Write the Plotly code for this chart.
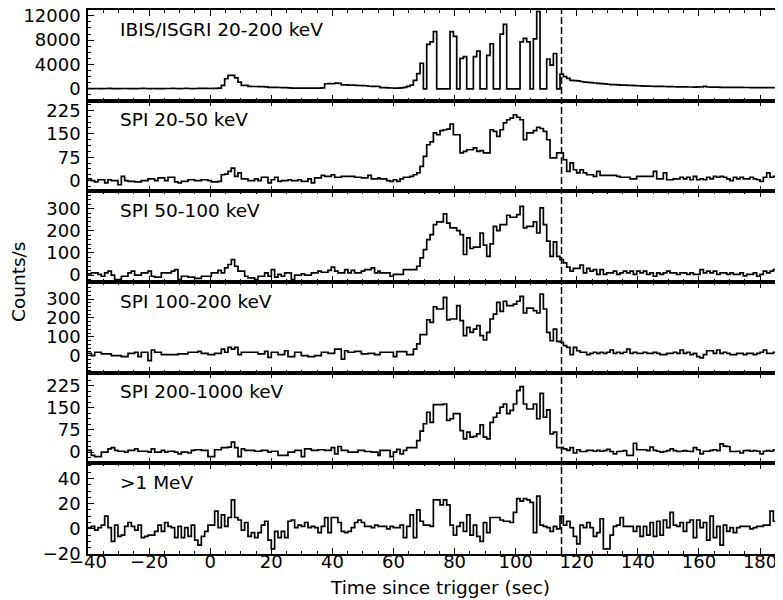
import plotly.graph_objects as go
from plotly.subplots import make_subplots

# time grid of the light curves (s)
BIN = 1.091
T_LEFT = -40.0
T_RIGHT = 55.6

panel_labels = ["IBIS/ISGRI 20-200 keV", "SPI 20-50 keV", "SPI 50-100 keV",
                "SPI 100-200 keV", "SPI 200-1000 keV", ">1 MeV"]

isgri_left = [30, 40, 50, 40, 30, 50, 60, 40, 30, 40,
              50, 50, 40, 30, 40, 50, 60, 50, 40, 50,
              40, 30, 40, 50, 50, 60, 50, 40, 50, 60,
              50, 40, 50, 60, 70, 60, 50, 60, 80, 120,
              550, 1650, 2200, 2200, 1800, 1100, 550, 550, 400, 380,
              380, 360, 350, 330, 250, 230, 220, 210, 200, 200,
              150, 120, 110, 110, 100, 100, 110, 100, 110, 120,
              150, 830, 850, 830, 940, 900, 660, 650, 620, 600,
              550, 540, 520, 500, 420, 400, 390, 380]
isgri_right = [200, 180, 150, 130, 120, 110, 150, 250, 400, 600,
               1400, 2500, 4200, 0, 7300, 7700, 9400, 0, 0, 0,
               0, 9400, 8600, 0, 5000, 5300, 0, 0, 5300, 6200,
               0, 0, 5500, 7400, 0, 0, 9000, 10600, 0, 0,
               0, 0, 7700, 8300, 7700, 0, 8200, 12700, 0, 0,
               4900, 3900, 5800, 0, 2400, 2000, 1700, 1400, 1350, 1300,
               1200, 1100, 1050, 1000, 950, 900, 850, 800, 750, 700,
               680, 650, 620, 600, 570, 550, 520, 500, 470, 450,
               430, 420, 410, 400, 390, 380, 360, 350, 340, 330,
               320, 310, 300, 300, 290, 320, 300, 400, 300, 280,
               270, 260, 250, 250, 240, 230, 230, 220, 220, 210,
               210, 200, 200, 200, 190, 190, 180, 180, 170, 170, 170]

spi_20_50_left = [6, 0, -4, 3, 3, -7, 3, 0, 0, -13,
                  14, 0, -2, -2, -4, -4, 0, 0, 6, 6,
                  0, 9, 9, 0, 11, 11, -4, -7, -2, -2,
                  3, 3, 0, 0, 3, 3, 0, -4, -4, -2,
                  19, 21, 30, 40, 14, 25, 6, 6, 0, 0,
                  6, 0, 11, 11, -7, 3, 11, -2, 0, 0,
                  3, 0, 0, 3, -2, -2, 6, -7, 9, 9,
                  17, 14, 14, 19, 11, 11, 14, 14, 14, 14,
                  11, 11, 9, 9, 17, 6, 6, 9]
spi_20_50_right = [6, 6, 0, -2, 3, -2, 6, 11, 11, 14,
                   19, 25, 46, 78, 115, 124, 153, 147, 160, 163,
                   165, 181, 147, 147, 89, 94, 99, 99, 105, 94,
                   96, 89, 89, 163, 158, 142, 163, 185, 195, 200,
                   211, 203, 195, 131, 153, 153, 160, 171, 167, 158,
                   131, 73, 73, 89, 89, 67, 30, 57, 35, 25,
                   35, 25, 19, 19, 14, 30, 17, 17, 17, 17,
                   17, 14, 11, 11, 11, 6, 6, 14, 14, 14,
                   14, 14, 30, 6, 6, 25, 3, 3, 6, 6,
                   11, 6, 11, 3, 14, 3, 6, 3, 11, 6,
                   14, 11, 14, 11, 6, 0, 11, 6, 11, 6,
                   6, 11, 6, 3, -2, 11, 25, 11, 14, 11, 14]

spi_50_100_left = [6, 10, 10, 3, -5, 10, 18, 0, -20, -20,
                   -5, -5, 10, 18, 0, 0, 10, 10, 18, -5,
                   -9, -9, 10, 10, 10, 18, 25, -20, -5, -5,
                   -9, -9, -15, -15, -5, -5, -5, 10, 10, 21,
                   10, 33, 48, 70, 40, 18, 18, -5, -12, -12,
                   -20, -5, -5, 10, -5, 25, -9, 3, -5, 10,
                   10, -20, 0, 0, 6, 0, 0, 10, 10, 18,
                   13, 13, 21, 36, 18, 10, 10, 25, 10, 21,
                   10, 10, 18, 25, 25, 33, 10, 18]
spi_50_100_right = [10, 10, 10, -5, 3, 3, 3, 25, 25, 25,
                    25, 40, 78, 115, 160, 183, 228, 240, 240, 276,
                    235, 213, 213, 201, 183, 93, 168, 120, 126, 126,
                    190, 135, 85, 141, 220, 201, 228, 228, 270, 261,
                    261, 273, 310, 213, 220, 220, 240, 190, 303, 228,
                    153, 85, 150, 85, 70, 55, 36, 18, 30, 30,
                    45, 10, 30, 18, 25, 3, 25, 3, 10, 10,
                    18, 3, 10, 18, 10, 18, 3, 18, 10, 18,
                    3, 10, -5, 10, 3, 10, 18, 10, 10, 3,
                    10, 10, 3, 10, 3, 3, 25, 10, 18, 10,
                    18, 3, 10, 10, 3, 10, 3, 3, 10, -3,
                    3, 3, 10, -5, 3, 18, 10, 18, 25, 25, 18]

spi_100_200_left = [12, 0, 18, 18, 9, 9, 9, 0, 0, 0,
                    -5, -5, 12, 12, 18, -5, 18, 18, -26, 30,
                    18, 18, 5, 5, 5, 5, 5, 9, 9, 9,
                    18, 18, 18, 23, 12, 12, 5, 5, 12, 12,
                    35, 18, 44, 35, 44, 5, 18, 18, 18, 18,
                    18, 9, 9, 23, -9, 18, 18, 5, 5, 26,
                    -5, -5, 18, 18, 0, 0, -5, -5, 0, 0,
                    18, 18, 12, 12, 35, 35, -18, 26, 18, 18,
                    23, 23, 9, 9, 12, 12, 5, 5]
spi_100_200_right = [18, 18, 18, 18, -5, 21, 21, 21, 5, 5,
                     35, 62, 111, 111, 189, 176, 259, 247, 247, 309,
                     189, 194, 194, 265, 185, 106, 150, 123, 141, 159,
                     106, 83, 123, 194, 220, 282, 235, 288, 265, 265,
                     273, 288, 314, 226, 252, 252, 238, 226, 326, 247,
                     123, 79, 141, 76, 71, 53, 44, 5, 44, 26,
                     18, 18, 5, 12, 18, 12, 18, 12, 18, 30,
                     12, 18, 12, 18, 35, 12, 18, 12, 12, 18,
                     12, 12, 18, 12, 5, 5, 12, 12, 18, 12,
                     30, 12, 18, 5, 12, -5, -12, 5, 26, 26,
                     12, 30, 12, 18, 12, 5, 5, 12, 12, 5,
                     12, 12, 5, 12, 18, 30, 12, 12, 18, 23, 23]

spi_200_1000_left = [6, -11, -15, -15, 0, 0, 11, 15, 6, 3,
                     3, 0, 6, 6, 11, 3, 3, 3, 0, 11,
                     0, 0, 6, 0, 3, 3, 0, -6, 0, 0,
                     -3, 6, 8, 8, 6, 6, -15, -15, 8, 8,
                     15, 15, 17, 34, 15, -15, 11, 6, 6, 6,
                     3, 3, 6, 6, 0, 3, 3, -11, -11, -11,
                     0, 0, 6, 6, -15, 11, 11, 6, 6, 8,
                     8, 6, 6, 15, -6, 19, 6, 6, 0, 0,
                     0, 6, 6, 2, 2, 0, 0, -11]
spi_200_1000_right = [6, 6, 6, -15, 0, 9, -6, 6, 15, 15,
                      15, 39, 71, 96, 135, 101, 161, 161, 161, 163,
                      107, 113, 130, 130, 73, 45, 68, 51, 53, 62,
                      92, 51, 45, 101, 118, 132, 152, 163, 130, 141,
                      163, 208, 222, 163, 146, 146, 163, 113, 199, 118,
                      143, 62, 68, 15, 15, 11, 6, 15, -3, 8,
                      2, 2, 6, 6, 3, 6, 3, 5, 9, 2,
                      -6, 2, 3, 5, -11, -11, 30, 8, 8, 8,
                      5, 17, 6, 3, 0, 2, 5, 11, 5, 2,
                      3, 5, 3, 2, 15, 8, -6, 3, 3, 6,
                      8, 5, 28, 20, 19, 2, 2, 3, -3, 5,
                      6, 3, 5, 3, -6, 3, 5, 3, 8, 17, 8]

mev_left = [1, 2, -1, 1, 3, 10, 1, -10, 3, -6,
            -5, 2, 5, 2, -1, 3, -7, -6, -5, -5,
            -2, 3, -2, 5, 2, 1, -7, 2, -7, 1,
            -6, 3, -9, -13, -6, -2, 3, 3, 14, 1,
            11, 2, 9, 23, 9, 7, -1, 5, -6, -3,
            -7, -3, 3, 6, -9, -16, -2, -7, -2, -7,
            6, 7, 1, 3, 2, 5, 1, 2, 1, -3,
            2, 9, -3, 9, 9, 5, -2, -3, -2, 1,
            5, 7, 5, 2, 2, 1, 3, 2]
mev_right = [2, 2, 0, 2, 1, 1, 3, -7, 2, 11,
             -7, 15, 6, 3, 3, 2, 23, 23, 19, 23,
             19, 3, -5, 2, 5, -2, 11, -5, 3, -6,
             -10, 5, -3, 9, 9, 9, 7, 6, 6, 5,
             13, 24, 22, 24, 23, 21, -3, 26, 3, 2,
             1, -2, 2, 0, 10, 3, 6, 1, -6, -12,
             3, 1, 5, 1, -6, -3, 8, -16, -16, -5,
             2, 3, 9, 2, 2, 2, -2, 2, -6, 2,
             -5, 5, -6, 6, -5, 7, 1, 13, 3, 2,
             5, -2, 5, 7, -7, 7, 1, 5, -9, 10,
             -7, 2, -13, 3, -2, 1, -3, 1, 2, 2,
             2, 0, 1, 2, 2, 3, 3, 14, 6, -3, -3]

series = [(isgri_left, isgri_right), (spi_20_50_left, spi_20_50_right),
          (spi_50_100_left, spi_50_100_right), (spi_100_200_left, spi_100_200_right),
          (spi_200_1000_left, spi_200_1000_right), (mev_left, mev_right)]

y_ranges = [[-1950, 12950], [-34, 256], [-31, 378], [-90, 390], [-38, 269], [-20, 52]]
y_dticks = [4000, 75, 100, 100, 75, 20]
y_minor = [1000, 18.75, 20, 20, 18.75, 5]

TRIGGER_LINE = 115
X_RANGE = [-40, 187.5]

# the page body adds an 8 px offset, so the figure is 8 px smaller than the window
PAGE_OFFSET = 8


def build(left, right):
    xs, ys = [], []
    for i, v in enumerate(left):
        t = T_LEFT + i * BIN
        if t < T_RIGHT:
            xs.append(t)
            ys.append(v)
    for k, v in enumerate(right):
        xs.append(T_RIGHT + k * BIN)
        ys.append(v)
    xs.append(xs[-1] + BIN)
    ys.append(ys[-1])
    return xs, ys


fig = make_subplots(rows=6, cols=1, shared_xaxes=True, vertical_spacing=0)

for i, (left, right) in enumerate(series):
    xs, ys = build(left, right)
    fig.add_trace(go.Scatter(x=xs, y=ys, mode="lines",
                             line=dict(color="black", width=1.7, shape="hv"),
                             showlegend=False, hoverinfo="skip"),
                  row=i + 1, col=1)
    fig.update_yaxes(range=y_ranges[i], dtick=y_dticks[i], tick0=0, tickformat="d",
                     showline=True, linecolor="black", linewidth=1.5, mirror=False,
                     ticks="inside", ticklen=6, tickwidth=1.2, tickcolor="black",
                     ticklabelstandoff=2, ticklabeloverflow="allow",
                     minor=dict(dtick=y_minor[i], tick0=0, ticks="inside", ticklen=3,
                                tickwidth=1, tickcolor="black"),
                     showgrid=False, zeroline=False,
                     tickfont=dict(family="DejaVu Sans", size=18, color="black"),
                     row=i + 1, col=1)
    n = "" if i == 0 else str(i + 1)
    fig.add_annotation(text=panel_labels[i], xref="x" + n + " domain", yref="y" + n + " domain",
                       x=0.043, y=0.79, xanchor="left", yanchor="middle", showarrow=False,
                       font=dict(family="DejaVu Sans", size=18.5, color="black"))

fig.update_xaxes(range=X_RANGE, dtick=20, tick0=0, showline=True, linecolor="black",
                 linewidth=1.5, mirror="ticks", ticks="inside", ticklen=6, tickwidth=1.2,
                 tickcolor="black", ticklabelstandoff=-9, ticklabeloverflow="allow",
                 minor=dict(dtick=5, tick0=0, ticks="inside", ticklen=3, tickwidth=1,
                            tickcolor="black"),
                 showgrid=False, zeroline=False,
                 tickfont=dict(family="DejaVu Sans", size=18, color="black"))

fig.add_shape(type="line", xref="x", yref="paper", x0=TRIGGER_LINE, x1=TRIGGER_LINE,
              y0=0, y1=1, line=dict(color="black", width=1.5, dash="7px,3px"))

fig.add_annotation(text="Counts/s", xref="paper", yref="paper", x=-0.1007, y=0.5,
                   textangle=-90, showarrow=False, xanchor="center", yanchor="middle",
                   font=dict(family="DejaVu Sans", size=18.5, color="black"))
fig.add_annotation(text="Time since trigger (sec)", xref="paper", yref="paper",
                   x=0.5065, y=-0.062, showarrow=False, xanchor="center", yanchor="middle",
                   font=dict(family="DejaVu Sans", size=18.5, color="black"))

fig.update_layout(width=783 - PAGE_OFFSET, height=600 - PAGE_OFFSET,
                  margin=dict(l=88 - PAGE_OFFSET, r=0, t=10 - PAGE_OFFSET, b=46,
                              autoexpand=False),
                  plot_bgcolor="white", paper_bgcolor="white", showlegend=False,
                  font=dict(family="DejaVu Sans", size=18, color="black"))

fig.write_html("out.html")
